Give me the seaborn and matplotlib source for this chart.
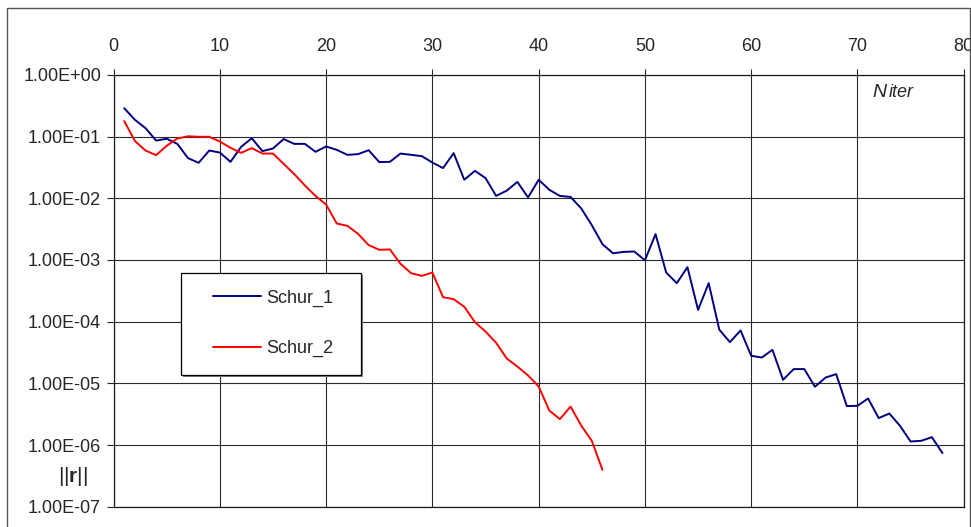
import numpy as np
import pandas as pd
import matplotlib
matplotlib.use("Agg")
import matplotlib.pyplot as plt
import matplotlib.ticker as mticker
from matplotlib.patches import Rectangle
import seaborn as sns

# -----------------------------
# DATA
# -----------------------------
series_names = ["Schur_1", "Schur_2"]

schur_1 = [
    0.288, 0.187, 0.137, 0.086, 0.092, 0.076, 0.0447, 0.0375, 0.0593, 0.055,
    0.0389, 0.068, 0.094, 0.058, 0.064, 0.091, 0.076, 0.076, 0.0565, 0.069,
    0.0608, 0.0505, 0.0518, 0.060, 0.0385, 0.0389, 0.053, 0.0505, 0.0481, 0.0379,
    0.0308, 0.0538, 0.0199, 0.0278, 0.0212, 0.0109, 0.0133, 0.0184, 0.0103, 0.0199,
    0.0137, 0.0109, 0.0105, 0.00686, 0.00366, 0.0018, 0.00128, 0.00135, 0.00137, 0.000986,
    0.00262, 0.000625, 0.00042, 0.000764, 0.000155, 0.00042, 7.4e-5, 4.65e-5, 7.2e-5, 2.79e-5,
    2.62e-5, 3.49e-5, 1.14e-5, 1.7e-5, 1.7e-5, 8.8e-6, 1.24e-5, 1.41e-5, 4.27e-6, 4.32e-6,
    5.67e-6, 2.73e-6, 3.24e-6, 2.05e-6, 1.14e-6, 1.17e-6, 1.34e-6, 7.4e-7,
]

schur_2 = [
    0.178, 0.085, 0.0593, 0.0499, 0.0707, 0.093, 0.101, 0.099, 0.099, 0.083,
    0.0656, 0.0544, 0.0649, 0.053, 0.053, 0.0361, 0.0246, 0.0161, 0.0109, 0.0079,
    0.00389, 0.00357, 0.00265, 0.00174, 0.00146, 0.00148, 0.000865, 0.00061, 0.000552, 0.000625,
    0.000249, 0.000231, 0.000174, 9.8e-5, 6.9e-5, 4.53e-5, 2.52e-5, 1.87e-5, 1.34e-5, 8.9e-6,
    3.62e-6, 2.63e-6, 4.2e-6, 2.07e-6, 1.17e-6, 3.96e-7,
]

x_ticks = [0, 10, 20, 30, 40, 50, 60, 70, 80]
y_ticks = [1e0, 1e-1, 1e-2, 1e-3, 1e-4, 1e-5, 1e-6, 1e-7]

# long-form table for seaborn
df = pd.concat([
    pd.DataFrame({"iter": np.arange(1, len(schur_1) + 1), "res": schur_1, "method": series_names[0]}),
    pd.DataFrame({"iter": np.arange(1, len(schur_2) + 1), "res": schur_2, "method": series_names[1]}),
])

# -----------------------------
# STYLE
# -----------------------------
sns.set_style("white")
plt.rcParams["font.family"] = ["Liberation Sans", "DejaVu Sans"]
plt.rcParams["mathtext.fontset"] = "custom"
plt.rcParams["mathtext.rm"] = "Liberation Sans"
plt.rcParams["mathtext.bf"] = "Liberation Sans:bold"

fig = plt.figure(figsize=(9.71, 5.27), dpi=100)
ax = fig.add_axes([0.117, 0.0385, 0.8755, 0.8195])

sns.lineplot(
    data=df, x="iter", y="res", hue="method",
    palette={"Schur_1": "#000080", "Schur_2": "#ff0000"},
    linewidth=1.4, ax=ax, legend=True,
)

ax.set_yscale("log")
ax.set_xlim(0, 80)
ax.set_ylim(1e-7, 1e0)
ax.set_xticks(x_ticks)
ax.set_yticks(y_ticks)
ax.yaxis.set_minor_locator(mticker.NullLocator())
ax.yaxis.set_major_formatter(mticker.FuncFormatter(lambda v, p: f"{v:.2E}".replace("E-00", "E+00")))
ax.set_xlabel("")
ax.set_ylabel("")

ax.grid(True, color="#2a2a2a", linewidth=0.8)
ax.set_axisbelow(True)
for s in ax.spines.values():
    s.set_color("#1a1a1a")
    s.set_linewidth(0.9)

ax.tick_params(axis="x", top=True, labeltop=True, bottom=False, labelbottom=False,
               direction="out", length=4, width=0.8, pad=10, labelsize=13)
ax.tick_params(axis="y", left=True, direction="out", length=5, width=0.8, pad=4, labelsize=13)

# axis captions
ax.text(0.893, 0.960, "N", transform=ax.transAxes, fontsize=14, style="italic", va="center")
ax.text(0.912, 0.958, "iter", transform=ax.transAxes, fontsize=13, style="italic", va="center")
fig.text(0.075, 0.095, r"$||\mathbf{r}||$", fontsize=15, ha="center", va="center")

# legend box (drawn by hand to match the reference's proportions)
box_x, box_y, box_w, box_h = 0.0815, 0.300, 0.212, 0.237
ax.add_patch(Rectangle((box_x, box_y), box_w, box_h, transform=ax.transAxes,
                       facecolor="0.5", edgecolor="none", zorder=4))
ax.add_patch(Rectangle((box_x - 0.0022, box_y + 0.0045), box_w, box_h, transform=ax.transAxes,
                       facecolor="white", edgecolor="black", linewidth=0.9, zorder=5))

handles, labels = ax.get_legend_handles_labels()
leg = ax.legend(handles, labels, loc="upper left", bbox_to_anchor=(0.117, 0.503),
                frameon=False, fontsize=13, handlelength=2.65, handletextpad=0.3,
                labelspacing=1.85, borderpad=0, borderaxespad=0)
leg.set_zorder(6)
for line in leg.get_lines():
    line.set_linewidth(1.4)

# outer chart border
fig.patches.append(Rectangle((7 / 971, -0.01), 0.999 - 7 / 971, 1 - 8 / 527 + 0.01,
                             transform=fig.transFigure, fill=False,
                             edgecolor="#555555", linewidth=1.0))

fig.savefig("out.png", dpi=100)
